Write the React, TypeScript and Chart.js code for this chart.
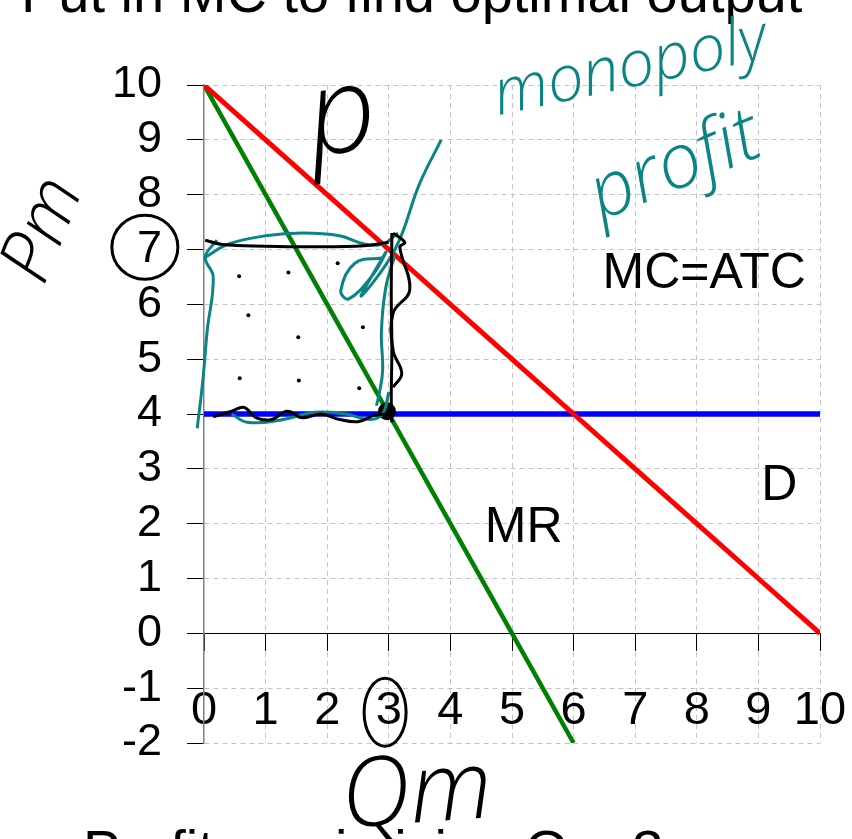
import { useEffect, useRef } from "react";
import { Chart, registerables } from "chart.js";

Chart.register(...registerables);

const FONT = "'Liberation Sans', Arial, Helvetica, sans-serif";
const HAND = "'Open Sans', 'DejaVu Sans', sans-serif";
const TEAL = "#0b8484";

// Monopoly model: demand, marginal revenue, constant marginal cost
const quantity = [0, 1, 2, 3, 4, 5, 6, 7, 8, 9, 10];
const demandPrice = [10, 9, 8, 7, 6, 5, 4, 3, 2, 1, 0];
const mrQuantity = [0, 1, 2, 3, 4, 5, 6];
const marginalRevenue = [10, 8, 6, 4, 2, 0, -2];
const marginalCost = [4, 4, 4, 4, 4, 4, 4, 4, 4, 4, 4];

const headline = "Put in MC to find optimal output";
const footline = "Profit maximizing Q = 3";

// Curve names, placed in (Q, P) units
const curveNames = ["MC=ATC", "D", "MR"];
const curveNameQ = [8.12, 9.34, 5.19];
const curveNameP = [6.55, 2.68, 1.91];

// Pen notes written over the slide, anchored in (Q, P) units
const noteText = ["monopoly", "profit", "p", "Pm", "Qm"];
const noteQ = [6.92, 7.65, 2.24, -2.6, 3.45];
const noteP = [10.3, 8.5, 9.4, 7.35, -2.95];

// Profit rectangle strokes (Q, P)
const blackTopQ = [0.02, 0.3, 1.0, 1.8, 2.6, 3.0];
const blackTopP = [7.17, 7.09, 7.06, 7.05, 7.07, 7.13];
const blackRightQ = [3.05, 3.04, 3.05, 3.04, 3.05];
const blackRightP = [7.3, 6.2, 5.2, 4.3, 3.85];
const blackWavyQ = [3.07, 3.26, 3.18, 3.34, 3.07, 3.07, 3.21, 3.07];
const blackWavyP = [7.3, 7.13, 7.04, 6.26, 5.84, 5.16, 4.74, 4.49];
const blackBottomQ = [0.15, 0.45, 0.65, 0.85, 1.1, 1.35, 1.6, 1.9, 2.2, 2.5, 2.75, 2.95];
const blackBottomP = [3.95, 4.05, 4.12, 3.93, 3.9, 4.05, 3.93, 4.0, 3.9, 3.86, 3.97, 4.0];
const tealLeftQ = [0.21, 0.02, 0.15, 0.05, -0.02, -0.11];
const tealLeftP = [7.17, 6.86, 6.5, 5.5, 4.6, 3.74];
const tealTopQ = [0.02, 0.4, 1.0, 1.6, 2.2, 2.6, 2.9, 3.15];
const tealTopP = [6.86, 7.1, 7.25, 7.3, 7.25, 7.1, 7.1, 7.3];
const tealRightQ = [3.1, 2.95, 2.88, 2.9, 2.85, 2.8];
const tealRightP = [6.9, 6.3, 5.5, 4.8, 4.4, 4.15];
const tealBottomQ = [0.45, 0.7, 1.2, 1.8, 2.3, 2.7, 2.9, 3.0];
const tealBottomP = [4.0, 3.85, 3.88, 4.03, 4.0, 3.9, 4.0, 4.4];
const tealTickQ = [2.9, 2.45, 2.22, 2.35, 2.75, 2.95, 2.55, 3.1, 3.5, 3.85];
const tealTickP = [6.85, 6.75, 6.25, 6.1, 6.55, 6.95, 6.15, 7.0, 8.2, 9.0];
const shadeDotQ = [0.57, 1.37, 2.17, 0.72, 1.53, 2.58, 0.58, 1.54, 2.52];
const shadeDotP = [6.51, 6.58, 6.75, 5.8, 5.4, 5.58, 4.65, 4.61, 4.47];
const optimumQ = [2.97];
const optimumP = [4.05];

// Circled axis values
const circledQ = [-0.96, 2.94];
const circledP = [7.04, -1.44];

const pts = (xs: number[], ys: number[]) => xs.map((x, i) => ({ x, y: ys[i] }));

const stroke = (xs: number[], ys: number[], color: string) => ({
  data: pts(xs, ys),
  showLine: true,
  borderColor: color,
  borderWidth: 3,
  pointRadius: 0,
  tension: 0.4,
  clip: false as const,
});

const overlay = {
  id: "overlay",
  afterDraw(chart: any) {
    const { ctx } = chart;
    const xs = chart.scales.x;
    const ys = chart.scales.y;
    ctx.save();
    ctx.fillStyle = "#000";
    ctx.textAlign = "left";
    ctx.textBaseline = "alphabetic";
    ctx.font = `56px ${FONT}`;
    ctx.fillText(headline, 21, 12);
    ctx.fillText(footline, 83, 869);

    ctx.font = `50px ${FONT}`;
    ctx.textAlign = "center";
    ctx.textBaseline = "middle";
    curveNames.forEach((t, i) => {
      ctx.fillText(t, xs.getPixelForValue(curveNameQ[i]), ys.getPixelForValue(curveNameP[i]));
    });

    // circles drawn round the answer values
    ctx.strokeStyle = "#000";
    ctx.lineWidth = 3;
    const radii = [
      [33, 32],
      [21, 34],
    ];
    circledQ.forEach((q, i) => {
      ctx.beginPath();
      ctx.ellipse(xs.getPixelForValue(q), ys.getPixelForValue(circledP[i]), radii[i][0], radii[i][1], 0, 0, Math.PI * 2);
      ctx.stroke();
    });

    const noteStyle = [
      { size: 64, rot: -12, color: TEAL },
      { size: 76, rot: -22, color: TEAL },
      { size: 120, rot: -8, color: "#000" },
      { size: 74, rot: -68, color: "#000" },
      { size: 96, rot: -4, color: "#000" },
    ];
    noteText.forEach((t, i) => {
      const s = noteStyle[i];
      ctx.save();
      ctx.translate(xs.getPixelForValue(noteQ[i]), ys.getPixelForValue(noteP[i]));
      ctx.rotate((s.rot * Math.PI) / 180);
      ctx.font = `italic 300 ${s.size}px ${HAND}`;
      ctx.fillStyle = s.color;
      ctx.fillText(t, 0, 0);
      ctx.restore();
    });
    ctx.restore();
  },
};

export default function App() {
  const ref = useRef<HTMLCanvasElement | null>(null);

  useEffect(() => {
    if (!ref.current) return;
    const gridColor = (c: any) => (c.tick && c.tick.value === 0 ? "rgba(0,0,0,0)" : "#c4c4c4");
    const chart = new Chart(ref.current, {
      type: "scatter",
      data: {
        datasets: [
          stroke(blackTopQ, blackTopP, "#000"),
          stroke(blackRightQ, blackRightP, "#000"),
          stroke(blackWavyQ, blackWavyP, "#000"),
          stroke(blackBottomQ, blackBottomP, "#000"),
          stroke(tealLeftQ, tealLeftP, TEAL),
          stroke(tealTopQ, tealTopP, TEAL),
          stroke(tealRightQ, tealRightP, TEAL),
          stroke(tealBottomQ, tealBottomP, TEAL),
          stroke(tealTickQ, tealTickP, TEAL),
          {
            data: pts(shadeDotQ, shadeDotP),
            pointRadius: 2,
            pointBackgroundColor: "#000",
            pointBorderWidth: 0,
            showLine: false,
          },
          {
            data: pts(optimumQ, optimumP),
            pointRadius: 9,
            pointBackgroundColor: "#000",
            pointBorderWidth: 0,
            showLine: false,
          },
          {
            label: "D",
            data: pts(quantity, demandPrice),
            showLine: true,
            borderColor: "#ff0000",
            borderWidth: 5,
            pointRadius: 0,
          },
          {
            label: "MR",
            data: pts(mrQuantity, marginalRevenue),
            showLine: true,
            borderColor: "#008000",
            borderWidth: 4.5,
            pointRadius: 0,
          },
          {
            label: "MC=ATC",
            data: pts(quantity, marginalCost),
            showLine: true,
            borderColor: "#0000ff",
            borderWidth: 5.5,
            pointRadius: 0,
          },
        ],
      } as any,
      options: {
        animation: false,
        responsive: false,
        events: [],
        layout: { padding: { left: 0, top: 85, right: 32, bottom: 96 } },
        plugins: { legend: { display: false }, tooltip: { enabled: false } },
        scales: {
          x: {
            type: "linear",
            min: 0,
            max: 10,
            position: { y: 0 } as any,
            ticks: {
              stepSize: 1,
              autoSkip: false,
              maxRotation: 0,
              padding: 33,
              color: "#000",
              font: { family: FONT, size: 47 },
            },
            grid: { color: gridColor, tickLength: 17, tickColor: "#000", tickWidth: 1 },
            border: { color: "#000", width: 1, dash: [5, 4] },
            afterFit: (s: any) => {
              s.paddingLeft = 0;
              s.paddingRight = 0;
            },
          },
          y: {
            type: "linear",
            min: -2,
            max: 10,
            position: "left",
            ticks: {
              stepSize: 1,
              autoSkip: false,
              padding: 25,
              color: "#000",
              font: { family: FONT, size: 45 },
            },
            grid: { color: gridColor, tickLength: 17, tickColor: "#000", tickWidth: 1 },
            border: { color: "#808080", width: 1.5, dash: [5, 4] },
            afterFit: (s: any) => {
              s.width = 204;
            },
          },
        },
      } as any,
      plugins: [overlay],
    });
    return () => chart.destroy();
  }, []);

  return (
    <div style={{ position: "fixed", left: 0, top: 0, width: 852, height: 839, background: "#fff" }}>
      <canvas ref={ref} width={852} height={839} style={{ display: "block" }} />
    </div>
  );
}
